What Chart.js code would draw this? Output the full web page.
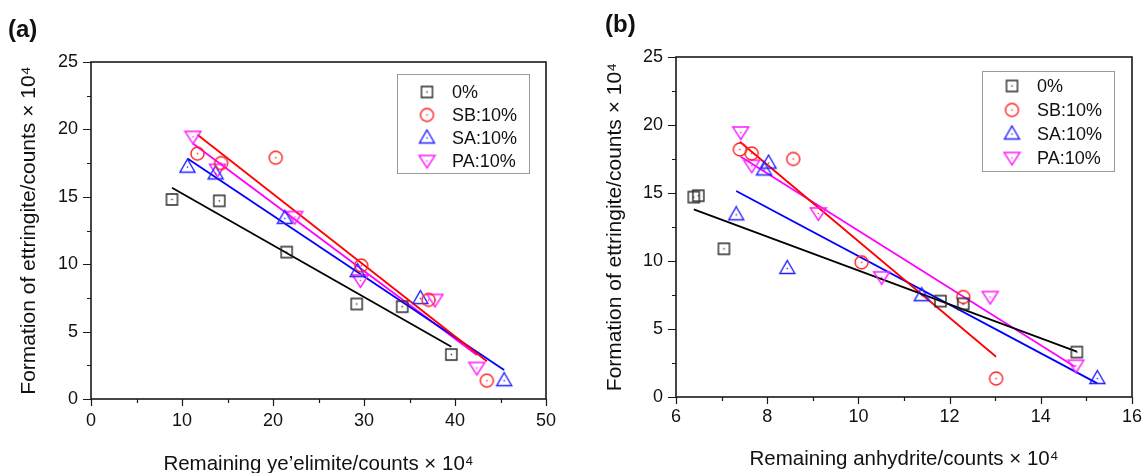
<!DOCTYPE html>
<html>
<head>
<meta charset="UTF-8">
<script src="https://cdn.jsdelivr.net/npm/chart.js"></script>
<style>
  body { margin: 0; background: #fff; overflow: hidden; }
  #wrap { position: relative; width: 1143px; height: 473px; overflow: hidden; }
  #ca { position: absolute; left: 0; top: 0; }
  #cb { position: absolute; left: 575px; top: 0; }
</style>
</head>
<body>
<div id="wrap">
  <canvas id="ca" width="575" height="473"></canvas>
  <canvas id="cb" width="568" height="473"></canvas>
</div>
<script>
// series
const seriesNames = ['0%', 'SB:10%', 'SA:10%', 'PA:10%'];

// formation of ettringite (same samples in both panels)
const yPlain = [14.8, 14.7, 10.9, 7.05, 6.85, 3.3];
const ySB    = [18.2, 17.9, 17.5, 9.9, 7.35, 1.36];
const ySA    = [17.2, 16.7, 13.4, 9.45, 7.45, 1.36];
const yPA    = [19.45, 17.0, 13.5, 8.8, 7.35, 2.3];

// (a) remaining ye'elimite
const xaPlain = [8.9, 14.1, 21.5, 29.2, 34.2, 39.6];
const xaSB    = [11.7, 20.3, 14.3, 29.7, 37.1, 43.5];
const xaSA    = [10.6, 13.7, 21.3, 29.3, 36.2, 45.4];
const xaPA    = [11.2, 13.9, 22.4, 29.6, 37.8, 42.4];

// (b) remaining anhydrite
const xbPlain = [6.49, 6.39, 7.05, 11.8, 12.3, 14.79];
const xbSB    = [7.40, 7.66, 8.57, 10.07, 12.3, 13.02];
const xbSA    = [8.03, 7.93, 7.32, 8.44, 11.39, 15.24];
const xbPA    = [7.42, 7.66, 9.12, 10.51, 12.89, 14.77];

// fitted lines, start/end
const fitAx = [[8.9, 39.6], [11.7, 43.5], [10.6, 45.4], [11.2, 42.4]];
const fitAy = [[15.67, 3.88], [19.6, 2.8], [17.85, 2.15], [18.95, 3.27]];
const fitBx = [[6.39, 14.79], [7.40, 13.02], [7.32, 15.24], [7.42, 14.75]];
const fitBy = [[13.8, 3.33], [18.77, 2.96], [15.15, 1.0], [17.67, 2.23]];

// tick labels
const yTicks = [0, 5, 10, 15, 20, 25];
const xaTicks = [0, 10, 20, 30, 40, 50];
const xbTicks = [6, 8, 10, 12, 14, 16];

const markColors = ['#2a2a2a', '#ff2020', '#2020ff', '#ff1aff'];
const lineColors = ['#000000', '#ff0000', '#0000ff', '#ff00ff'];
const shapes = ['square', 'circle', 'up', 'down'];

Chart.defaults.font.family = "'Liberation Sans', Arial, sans-serif";
Chart.defaults.color = '#111';

function marker(shape, color) {
  const c = document.createElement('canvas');
  c.width = 19; c.height = 19;
  const g = c.getContext('2d');
  const m = 9.5;
  g.strokeStyle = color; g.fillStyle = color; g.lineWidth = 1.4;
  g.beginPath();
  if (shape === 'square') g.rect(m - 5.5, m - 5.5, 11, 11);
  else if (shape === 'circle') g.arc(m, m, 6.5, 0, Math.PI * 2);
  else if (shape === 'up') { g.moveTo(m, m - 8); g.lineTo(m + 7.5, m + 5); g.lineTo(m - 7.5, m + 5); g.closePath(); }
  else { g.moveTo(m, m + 7); g.lineTo(m + 8, m - 5.5); g.lineTo(m - 8, m - 5.5); g.closePath(); }
  g.stroke();
  g.fillRect(m - 0.7, m - 0.7, 1.4, 1.4);
  return c;
}
const markers = shapes.map((s, i) => marker(s, markColors[i]));

const framePlugin = {
  id: 'frame',
  beforeDatasetsDraw(chart) {
    const { ctx, chartArea: a, scales } = chart;
    ctx.save();
    ctx.strokeStyle = '#1a1a1a';
    ctx.lineWidth = 1.6;
    ctx.strokeRect(a.left, a.top, a.right - a.left, a.bottom - a.top);
    ctx.lineWidth = 1.2;
    ctx.beginPath();
    scales.x.ticks.forEach(t => {
      const p = Math.round(scales.x.getPixelForValue(t.value)) + 0.5;
      ctx.moveTo(p, a.bottom); ctx.lineTo(p, a.bottom + (t.label !== '' ? 7 : 4));
    });
    scales.y.ticks.forEach(t => {
      const p = Math.round(scales.y.getPixelForValue(t.value)) + 0.5;
      ctx.moveTo(a.left, p); ctx.lineTo(a.left - (t.label !== '' ? 8 : 4), p);
    });
    ctx.stroke();
    ctx.restore();
  },
  afterDatasetsDraw(chart, args, o) {
    const { ctx, chartArea: a } = chart;
    ctx.save();
    const bx = a.right - o.right - o.w, by = a.top + o.top;
    ctx.fillStyle = '#fff';
    ctx.fillRect(bx, by, o.w, o.h);
    ctx.strokeStyle = '#9a9a9a';
    ctx.lineWidth = 1;
    ctx.strokeRect(bx + 0.5, by + 0.5, o.w, o.h);
    ctx.font = "18px 'Liberation Sans', Arial, sans-serif";
    ctx.fillStyle = '#111';
    ctx.textBaseline = 'middle';
    seriesNames.forEach((n, i) => {
      const ry = by + o.row0 + i * o.step;
      ctx.drawImage(markers[i], bx + 30 - 9.5, ry - 9.5);
      ctx.fillText(n, bx + 55, ry + 1);
    });
    ctx.font = "bold 24px 'Liberation Sans', Arial, sans-serif";
    ctx.textBaseline = 'alphabetic';
    ctx.fillText(o.label, o.lx, o.ly);
    ctx.restore();
  }
};

function buildPanel(id, xs, ys, fx, fy, xMin, xMax, xStep, xLab, xTitle, lay) {
  const datasets = [];
  seriesNames.forEach((n, i) => {
    datasets.push({
      label: n,
      data: xs[i].map((x, j) => ({ x: x, y: ys[i][j] })),
      pointStyle: markers[i],
      pointRadius: 8,
      order: 0
    });
    datasets.push({
      label: n + ' fit',
      data: fx[i].map((x, j) => ({ x: x, y: fy[i][j] })),
      showLine: true,
      borderColor: lineColors[i],
      borderWidth: 1.8,
      pointRadius: 0,
      order: 1
    });
  });
  return new Chart(document.getElementById(id), {
    type: 'scatter',
    data: { datasets: datasets },
    options: {
      responsive: false,
      animation: false,
      events: [],
      layout: { padding: { left: 0, top: lay.top, right: lay.right, bottom: 0 } },
      scales: {
        x: {
          type: 'linear', min: xMin, max: xMax,
          afterFit: s => { s.height = lay.xh; s.paddingLeft = 0; s.paddingRight = 0; },
          grid: { display: false, drawTicks: false },
          border: { display: false },
          ticks: {
            stepSize: xStep, autoSkip: false, maxRotation: 0, padding: lay.xpad,
            font: { size: 18 }, color: '#111',
            callback: v => xLab.includes(v) ? String(v) : ''
          },
          title: { display: true, text: xTitle, font: { size: 20.5 }, color: '#111', padding: { top: 0, bottom: lay.xtp } }
        },
        y: {
          type: 'linear', min: 0, max: 25,
          afterFit: s => { s.width = lay.yw; },
          grid: { display: false, drawTicks: false },
          border: { display: false },
          ticks: {
            stepSize: 2.5, autoSkip: false, padding: 13,
            font: { size: 18 }, color: '#111',
            callback: v => yTicks.includes(v) ? String(v) : ''
          },
          title: { display: true, text: 'Formation of ettringite/counts × 10⁴', font: { size: 21 }, color: '#111', padding: { top: lay.ytp, bottom: 0 } }
        }
      },
      plugins: {
        legend: { display: false },
        tooltip: { enabled: false },
        frame: lay.legend
      }
    },
    plugins: [framePlugin]
  });
}

buildPanel('ca', [xaPlain, xaSB, xaSA, xaPA], [yPlain, ySB, ySA, yPA], fitAx, fitAy,
  0, 50, 5, xaTicks, 'Remaining ye’elimite/counts × 10⁴',
  { top: 62, right: 29, xh: 74, yw: 91, ytp: 16.4, xtp: -3.5, xpad: 11,
    legend: { right: 17, top: 12, w: 132, h: 99, row0: 18, step: 23, label: '(a)', lx: 8, ly: 37 } });

buildPanel('cb', [xbPlain, xbSB, xbSA, xbPA], [yPlain, ySB, ySA, yPA], fitBx, fitBy,
  6, 16, 1, xbTicks, 'Remaining anhydrite/counts × 10⁴',
  { top: 57, right: 11, xh: 76, yw: 101, ytp: 28, xtp: 1, xpad: 9,
    legend: { right: 18, top: 14, w: 132, h: 100, row0: 15, step: 24, label: '(b)', lx: 30, ly: 32 } });
</script>
</body>
</html>
